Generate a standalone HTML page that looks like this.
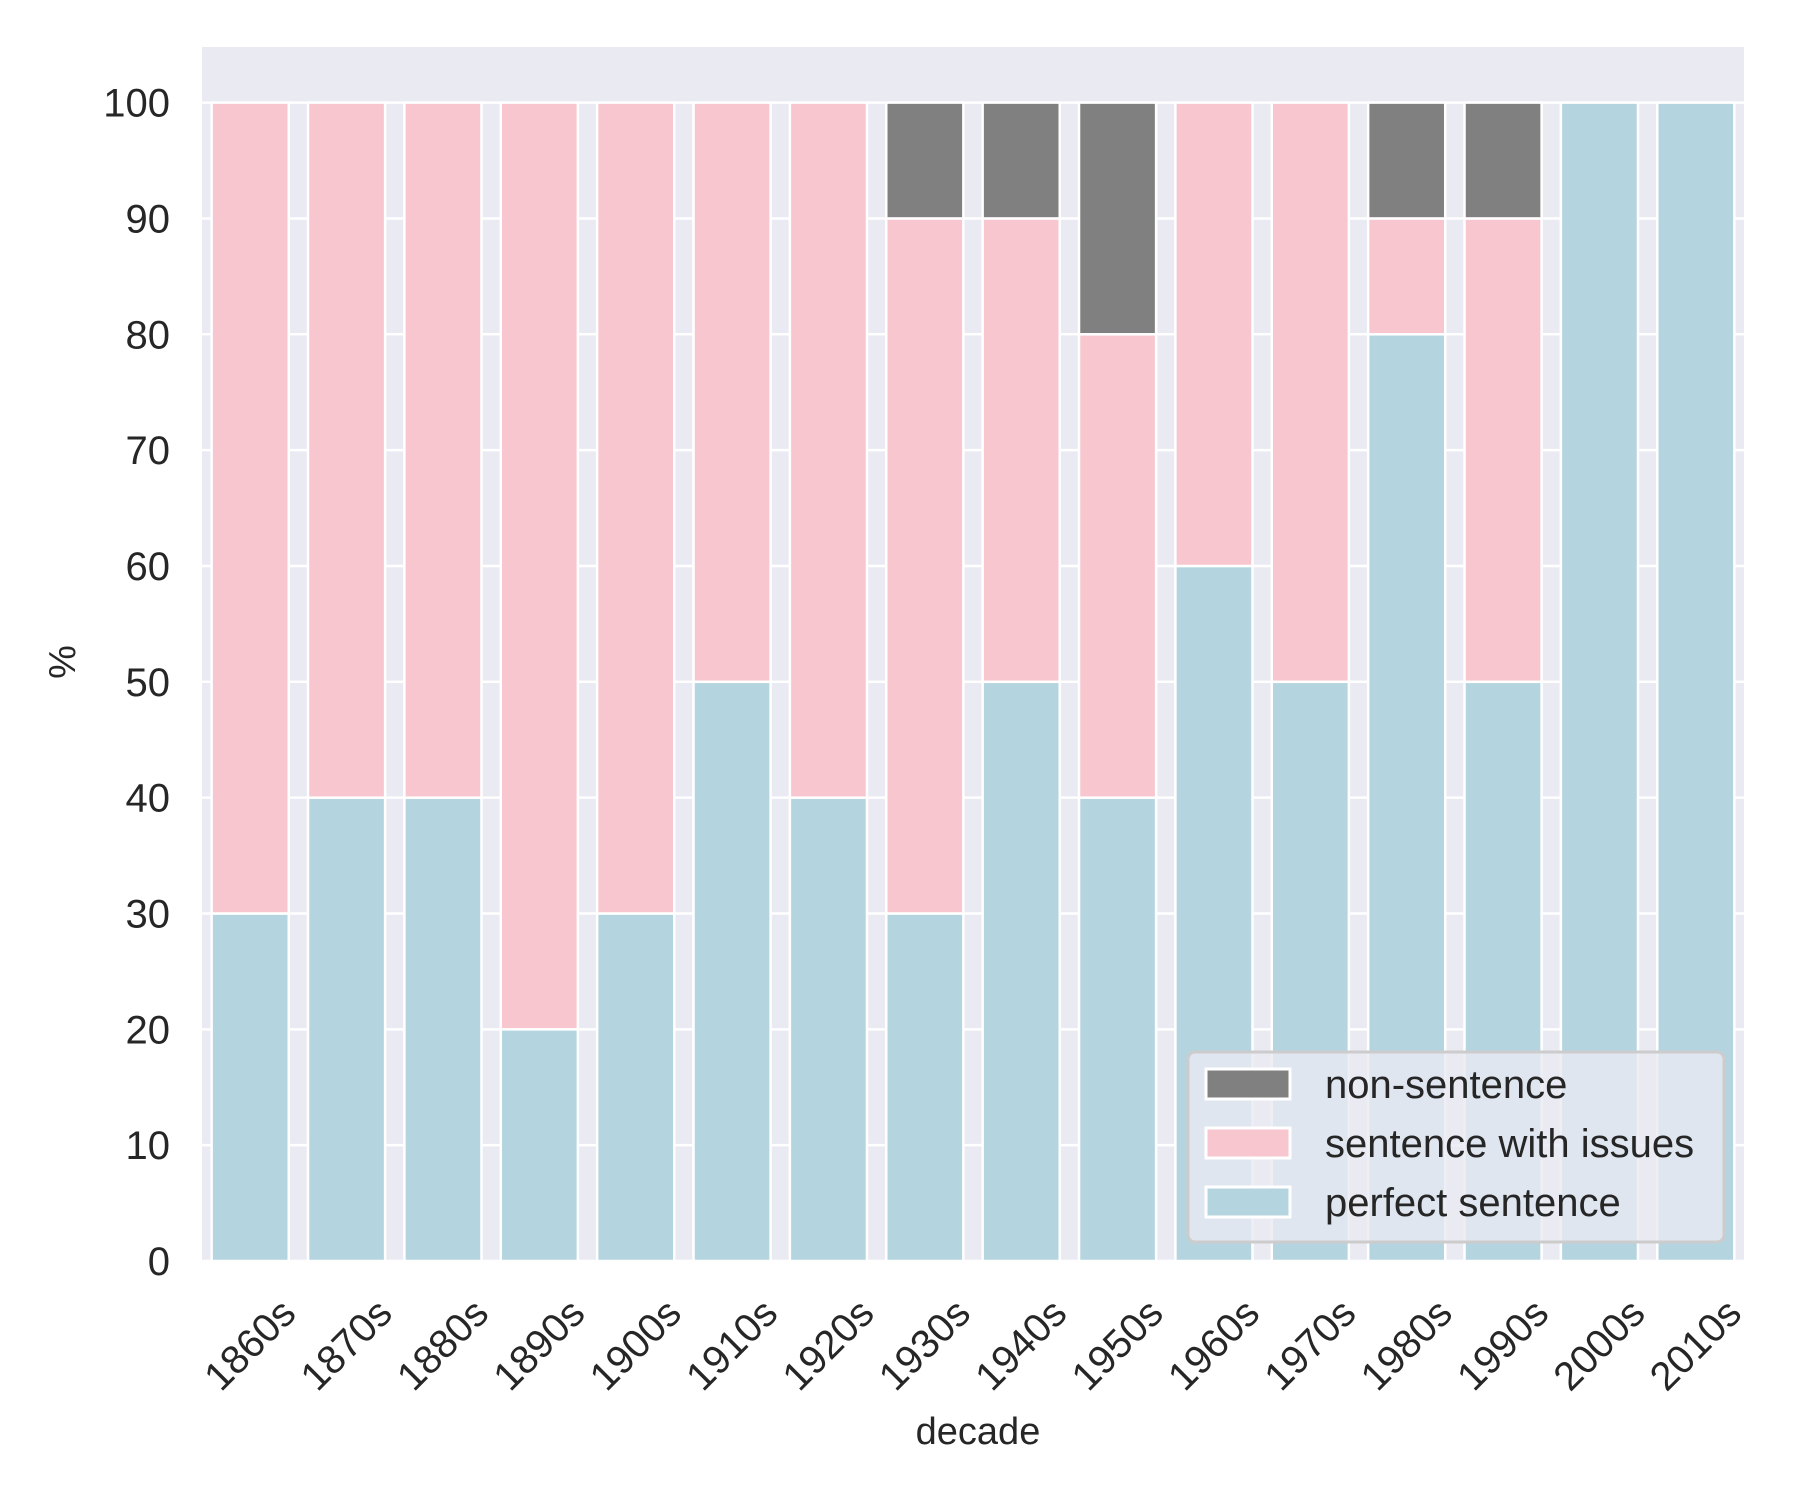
<!DOCTYPE html>
<html><head><meta charset="utf-8"><style>
html,body{margin:0;padding:0;background:#fff;}
svg{display:block;font-family:"Liberation Sans",Arial,sans-serif;}
</style></head><body>
<svg id="chart" width="1800" height="1500" xmlns="http://www.w3.org/2000/svg">
<rect x="202" y="47" width="1542" height="1214" fill="#eaeaf2"/>
<g id="grid"></g><g id="bars"></g><g id="yticks"></g><g id="xticks"></g>
<text x="75" y="662" font-size="38" fill="#262626" text-anchor="middle" transform="rotate(-90 75 662)">%</text>
<text x="978" y="1444" font-size="38" fill="#262626" text-anchor="middle">decade</text>
<g>
<rect x="1188" y="1052" width="536" height="190" rx="7" fill="#eaeaf2" fill-opacity="0.8" stroke="#cccccc" stroke-width="3"/>
<rect x="1206" y="1069" width="84" height="30" fill="#808080" stroke="#fff" stroke-width="3"/>
<text x="1325" y="1098" font-size="40" fill="#262626">non-sentence</text>
<rect x="1206" y="1128" width="84" height="30" fill="#f7c6ce" stroke="#fff" stroke-width="3"/>
<text x="1325" y="1157" font-size="40" fill="#262626">sentence with issues</text>
<rect x="1206" y="1187" width="84" height="30" fill="#b4d5df" stroke="#fff" stroke-width="3"/>
<text x="1325" y="1216" font-size="40" fill="#262626">perfect sentence</text>
</g>
</svg>
<script>
const categories = ["1860s","1870s","1880s","1890s","1900s","1910s","1920s","1930s","1940s","1950s","1960s","1970s","1980s","1990s","2000s","2010s"];
const perfect = [30,40,40,20,30,50,40,30,50,40,60,50,80,50,100,100];
const issues = [70,60,60,80,70,50,60,60,40,40,40,50,10,40,0,0];
const nonSentence = [0,0,0,0,0,0,0,10,10,20,0,0,10,10,0,0];
const yTicks = [0,10,20,30,40,50,60,70,80,90,100];

const NS="http://www.w3.org/2000/svg";
const L=202,R=1744,T=47,B=1261,YMAX=104.8;
const step=(R-L)/categories.length;
function xc(i){return L+(i+0.5)*step;}
function y(v){return B-(v/YMAX)*(B-T);}
function mk(tag,attrs,parent){const e=document.createElementNS(NS,tag);for(const k in attrs)e.setAttribute(k,attrs[k]);parent.appendChild(e);return e;}
const grid=document.getElementById('grid'),bars=document.getElementById('bars'),yt=document.getElementById('yticks'),xt=document.getElementById('xticks');
yTicks.forEach(v=>{
  const ln=mk('line',{x1:L,x2:R,y1:y(v),y2:y(v),stroke:'#fff','stroke-width':2.5},grid);
  
  
  const t=mk('text',{x:170,y:y(v)+14,'font-size':40,fill:'#262626','text-anchor':'end'},yt);
  t.textContent=v;
  
  
});
categories.forEach((c,i)=>{
  const g=mk('line',{x1:xc(i),x2:xc(i),y1:y(100),y2:B,stroke:'#fff','stroke-width':2.5},grid);
  
  
  const w=step*0.8,x0=xc(i)-w/2;
  const segs=[[0,perfect[i],'#b4d5df','bar-perfect-'+c],[perfect[i],perfect[i]+issues[i],'#f7c6ce','bar-issues-'+c],[perfect[i]+issues[i],perfect[i]+issues[i]+nonSentence[i],'#808080','bar-non-sentence-'+c]];
  segs.forEach(s=>{
    if(s[1]-s[0]<=0)return;
    const r=mk('rect',{x:x0,y:y(s[1]),width:w,height:y(s[0])-y(s[1]),fill:s[2],stroke:'#fff','stroke-width':2.5},bars);
    
    
  });
  const cy=1345;
  const t=mk('text',{x:xc(i),y:cy,'font-size':40,fill:'#262626','text-anchor':'middle','dominant-baseline':'central',transform:'rotate(-45 '+xc(i)+' '+cy+')'},xt);
  t.textContent=c;
  
  
});
</script>
</body></html>
